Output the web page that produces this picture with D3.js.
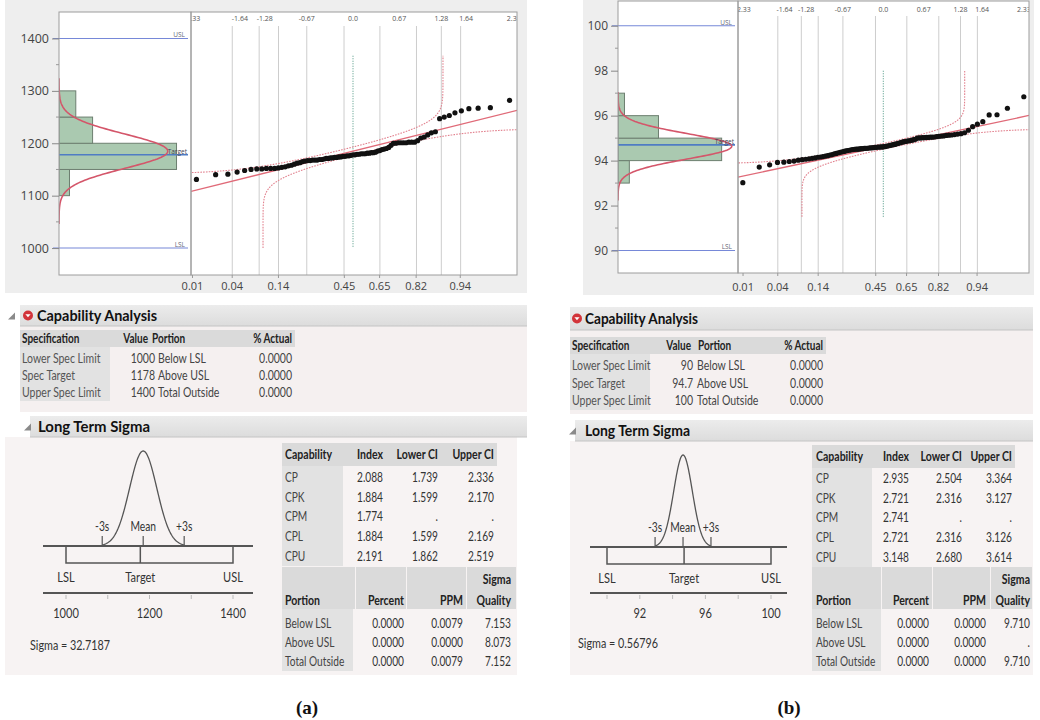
<!DOCTYPE html>
<html><head><meta charset="utf-8">
<script src="https://cdn.jsdelivr.net/npm/d3@7"></script>
<style>body{margin:0;background:#fff}svg{display:block}</style>
</head><body>
<script>
// ================= DATA =================
// (a) sorted observations read from the normal quantile plot (n = 85)
const valuesA = [1131,1140,1141,1145,1148, 1150,1151,1151,1152,1152,1152,1153,1154,1155,
  1157,1158,1160,1162,1163,1165,1166, 1167,1167,1168,1168,1168,1169,1169,1170,
  1171,1171,1172,1172,1173,1173,1174,1174, 1175,1175,1176,1176,1177,1178,1178,1179,
  1179,1180,1180,1180,1181,1181,1182,1182, 1183,1185,1186,1188,1189,1190,1192,1196,
  1200,1200,1201,1201,1201,1201,1202,1202, 1202,1205,1210,1212,1216,1220,1222,1247,
  1250,1253,1258,1262,1266,1267,1268,1282];
// (b) sorted observations (n = 100)
const valuesB = [93.02,93.71,93.81,93.92,93.93,93.96,93.98,
  94.02,94.04,94.06,94.08,94.10,94.12,94.15,
  94.16,94.18,94.20,94.22,94.25,94.27,94.30,
  94.32,94.35,94.37,94.39,94.41,94.43,94.45,94.46,94.48,
  94.49,94.50,94.51,94.51,94.52,94.53,94.53,94.54,94.55,94.55,
  94.56,94.57,94.57,94.58,94.59,94.59,94.60,94.60,94.61,94.61,94.62,
  94.63,94.65,94.66,94.68,94.69,94.71,94.72,94.74,94.76,94.78,94.80,
  94.82,94.84,94.85,94.87,94.88,94.89,94.91,94.93,94.95,
  95.00,95.01,95.01,95.02,95.02,95.03,95.03,95.04,95.04,95.05,
  95.07,95.08,95.09,95.10,95.12,95.13,95.14,
  95.16,95.18,95.20,95.24,95.35,95.51,95.62,95.73,
  96.03,96.04,96.33,96.84];
const binEdgesA = [1100,1150,1200,1250,1300];
const binEdgesB = [93,94,95,96,97];
const specValuesA = [1000, 1178, 1400];   // LSL, Target, USL
const specValuesB = [90, 94.7, 100];
const meanA = 1184.9, sigmaA = 32.7187;
const meanB = 94.636, sigmaB = 0.56796;
const bandRangeA = [1000, 1367];
const bandRangeB = [91.5, 98.0];
const yTicksA = [1000,1100,1200,1300,1400];
const yTicksB = [90,92,94,96,98,100];
const quantTopZ = [-2.33,-1.64,-1.28,-0.67,0,0.67,1.28,1.64,2.33];
const quantTopLabels = ["-2.33","-1.64","-1.28","-0.67","0.0","0.67","1.28","1.64","2.33"];
const probBottom = [0.01,0.04,0.14,0.45,0.65,0.82,0.94];
const gridZ = [-1.75,-1.36,-1.08,-0.67,-0.13,0.39,0.92,1.28,1.56];
const specNames = ["Lower Spec Limit","Spec Target","Upper Spec Limit"];
const specValueTextA = ["1000","1178","1400"];
const specValueTextB = ["90","94.7","100"];
const portionNames = ["Below LSL","Above USL","Total Outside"];
const actualA = ["0.0000","0.0000","0.0000"];
const actualB = ["0.0000","0.0000","0.0000"];
const capNames = ["CP","CPK","CPM","CPL","CPU"];
const capIndexA = ["2.088","1.884","1.774","1.884","2.191"];
const capLowerA = ["1.739","1.599",".","1.599","1.862"];
const capUpperA = ["2.336","2.170",".","2.169","2.519"];
const capIndexB = ["2.935","2.721","2.741","2.721","3.148"];
const capLowerB = ["2.504","2.316",".","2.316","2.680"];
const capUpperB = ["3.364","3.127",".","3.126","3.614"];
const percentA = ["0.0000","0.0000","0.0000"];
const ppmA = ["0.0079","0.0000","0.0079"];
const sigmaQualityA = ["7.153","8.073","7.152"];
const percentB = ["0.0000","0.0000","0.0000"];
const ppmB = ["0.0000","0.0000","0.0000"];
const sigmaQualityB = ["9.710",".","9.710"];
const diagTicksA = [1000,1100,1200,1300,1400];
const diagLabelsA = [1000,1200,1400];
const diagTicksB = [90,92,94,96,98,100];
const diagLabelsB = [92,96,100];

// ================= HELPERS =================
const SANS = "'Open Sans','DejaVu Sans',sans-serif";
const LATO = "Lato,'Open Sans',sans-serif";
const svg = d3.select("body").append("svg").attr("width",1040).attr("height",720);
svg.append("rect").attr("width",1040).attr("height",720).attr("fill","#fff");
const defs = svg.append("defs");

function T(g, x, y, s, o = {}) {
  const t = g.append("text").attr("x", x).attr("y", y).attr("dy", "0.35em")
    .attr("font-family", o.font || LATO).attr("font-size", o.size || 12)
    .attr("font-weight", o.bold ? "bold" : "normal")
    .attr("text-anchor", o.anchor || "start").attr("fill", o.fill || "#333").text(s);
  if (o.len) t.attr("textLength", o.len).attr("lengthAdjust", "spacingAndGlyphs");
  else if (o.k && o.k !== 1) {
    const w = t.node().getComputedTextLength();
    if (w > 0) t.attr("textLength", w * o.k).attr("lengthAdjust", "spacingAndGlyphs");
  }
  return t;
}
function R(g, x0, y0, x1, y1, fill, stroke) {
  return g.append("rect").attr("x", x0).attr("y", y0).attr("width", x1 - x0).attr("height", y1 - y0)
    .attr("fill", fill).attr("stroke", stroke || "none");
}
function probit(p) {
  const a=[-3.969683028665376e+01,2.209460984245205e+02,-2.759285104469687e+02,1.383577518672690e+02,-3.066479806614716e+01,2.506628277459239e+00];
  const b=[-5.447609879822406e+01,1.615858368580409e+02,-1.556989798598866e+02,6.680131188771972e+01,-1.328068155288572e+01];
  const c=[-7.784894002430293e-03,-3.223964580411365e-01,-2.400758277161838e+00,-2.549671010238208e+00,4.374664141464968e+00,2.938163982698783e+00];
  const d=[7.784695709041462e-03,3.224671290700398e-01,2.445134137142996e+00,3.754408661907416e+00];
  const pl = 0.02425, ph = 1 - pl; let q, r;
  if (p < pl) { q = Math.sqrt(-2*Math.log(p)); return (((((c[0]*q+c[1])*q+c[2])*q+c[3])*q+c[4])*q+c[5])/((((d[0]*q+d[1])*q+d[2])*q+d[3])*q+1); }
  if (p > ph) { q = Math.sqrt(-2*Math.log(1-p)); return -(((((c[0]*q+c[1])*q+c[2])*q+c[3])*q+c[4])*q+c[5])/((((d[0]*q+d[1])*q+d[2])*q+d[3])*q+1); }
  q = p - 0.5; r = q*q;
  return (((((a[0]*r+a[1])*r+a[2])*r+a[3])*r+a[4])*r+a[5])*q/(((((b[0]*r+b[1])*r+b[2])*r+b[3])*r+b[4])*r+1);
}
function ncdf(z) {
  const t = 1/(1 + 0.3275911*Math.abs(z)/Math.SQRT2);
  const y = 1 - (((((1.061405429*t - 1.453152027)*t) + 1.421413741)*t - 0.284496736)*t + 0.254829592)*t*Math.exp(-z*z/2);
  return z >= 0 ? 0.5*(1+y) : 0.5*(1-y);
}

// ================= TOP PLOTS =================
function drawTop(L, D) {
  const g = svg.append("g");
  R(g, L.bg[0], L.bg[1], L.bg[2], L.bg[3], "#eeeeee");
  const y = d3.scaleLinear().domain(L.yDom).range([L.bot, L.top]);
  const xh = d3.scaleLinear().domain([0, L.histMax]).range([L.hx0, L.hx1]);
  const xq = d3.scaleLinear().domain(L.zDom).range([L.hx1, L.qx1]);
  defs.append("clipPath").attr("id", "ch" + L.id).append("rect")
    .attr("x", L.hx0).attr("y", L.top).attr("width", L.hx1 - L.hx0).attr("height", L.bot - L.top);
  defs.append("clipPath").attr("id", "cq" + L.id).append("rect")
    .attr("x", L.hx1).attr("y", L.top).attr("width", L.qx1 - L.hx1).attr("height", L.bot - L.top);
  R(g, L.hx0, L.top, L.hx1, L.bot, "#fff");
  R(g, L.hx1, L.top, L.qx1, L.bot, "#fff");

  const [lsl, target, usl] = D.spec;
  const n = D.values.length;
  // ---- histogram ----
  const gh = g.append("g").attr("clip-path", `url(#ch${L.id})`);
  const edges = D.edges;
  const bins = d3.bin().domain([edges[0], edges[edges.length-1]]).thresholds(edges.slice(1, -1))(D.values);
  gh.selectAll("rect.bar").data(bins).join("rect").attr("class", "bar")
    .attr("x", xh(0)).attr("y", b => y(b.x1))
    .attr("width", b => xh(b.length) - xh(0)).attr("height", b => y(b.x0) - y(b.x1))
    .attr("fill", "#aac9b0").attr("stroke", "#6d7f70").attr("stroke-width", 1);
  // spec limit lines
  [[lsl, "LSL"], [usl, "USL"]].forEach(([v, lab]) => {
    g.append("line").attr("x1", L.hx0 - 6).attr("x2", L.hx1 - 3).attr("y1", y(v)).attr("y2", y(v))
      .attr("stroke", "#7688d8").attr("stroke-width", 1.1);
    T(g, L.hx1 - 6, y(v) - 3.5, lab, {font: SANS, size: 6.5, anchor: "end", fill: "#667"});
  });
  gh.append("line").attr("x1", L.hx0).attr("x2", L.hx1 - 3).attr("y1", y(target)).attr("y2", y(target))
    .attr("stroke", "#4f7cc4").attr("stroke-width", 1.6);
  // fitted normal curve
  const bw = edges[1] - edges[0];
  const ws = d3.range(-4.25, 4.2501, 0.05);
  const curve = ws.map(w => [n * bw * Math.exp(-w*w/2) / (D.sigma * Math.sqrt(2*Math.PI)), D.mean + D.sigma * w]);
  gh.append("path").attr("d", d3.line().x(d => xh(d[0])).y(d => y(d[1]))(curve))
    .attr("fill", "none").attr("stroke", "#d4566a").attr("stroke-width", 1.6);
  T(g, L.hx1 - 4, y(target) - 3, "Target", {font: SANS, size: 6.5, anchor: "end", fill: "#445"});

  // ---- normal quantile plot ----
  const gq = g.append("g").attr("clip-path", `url(#cq${L.id})`);
  gq.selectAll("line.grid").data(gridZ).join("line").attr("class", "grid")
    .attr("x1", d => xq(d)).attr("x2", d => xq(d)).attr("y1", L.gridTop).attr("y2", L.bot)
    .attr("stroke", "#cdcdcd").attr("stroke-width", 1);
  quantTopZ.forEach((z, i) => T(gq, xq(z), L.topLabY, quantTopLabels[i], {font: SANS, size: 7, anchor: "middle", fill: "#555"}));
  // z = 0 reference
  gq.append("line").attr("x1", xq(0)).attr("x2", xq(0)).attr("y1", y(D.band[1])).attr("y2", y(D.band[0]))
    .attr("stroke", "#5a9f8c").attr("stroke-width", 1.1).attr("stroke-dasharray", "1,1.5");
  // Lilliefors confidence bands
  const dcrit = 0.886 / Math.sqrt(n);
  const wsB = d3.range(-6, 6.0001, 0.004);
  const upper = [], lower = [];
  wsB.forEach(w => {
    const v = D.mean + D.sigma * w;
    const pu = ncdf(w) - dcrit;
    if (pu > 1e-9 && pu < 1 - 1e-9 && v <= D.band[1]) upper.push([probit(pu), v]);
    const pl = ncdf(w) + dcrit;
    if (pl > 1e-9 && pl < 1 - 1e-9 && v >= D.band[0]) lower.push([probit(pl), v]);
  });
  const zl = d3.line().x(d => xq(d[0])).y(d => y(d[1]));
  [upper, lower].forEach(arr => gq.append("path").attr("d", zl(arr.filter(d => d[0] > L.zDom[0] - 0.2 && d[0] < L.zDom[1] + 0.2)))
    .attr("fill", "none").attr("stroke", "#e2828f").attr("stroke-width", 1.1).attr("stroke-dasharray", "1.6,1.2"));
  // fitted line
  gq.append("line").attr("x1", xq(L.zDom[0])).attr("x2", xq(L.zDom[1]))
    .attr("y1", y(D.mean + D.sigma * L.zDom[0])).attr("y2", y(D.mean + D.sigma * L.zDom[1]))
    .attr("stroke", "#e06a78").attr("stroke-width", 1.3);
  // points
  const sorted = D.values.slice().sort(d3.ascending);
  gq.selectAll("circle").data(sorted).join("circle")
    .attr("cx", (d, i) => xq(probit((i + 1) / (n + 1)))).attr("cy", d => y(d))
    .attr("r", 2.6).attr("fill", "#111");

  // frames
  R(g, L.hx0, L.top, L.hx1, L.bot, "none", "#9c9c9c");
  R(g, L.hx1, L.top, L.qx1, L.bot, "none", "#9c9c9c");
  // y axis
  const ax = d3.axisLeft(y).tickValues(D.yTicks).tickSize(7).tickPadding(3).tickFormat(d3.format("d"));
  const ga = g.append("g").attr("transform", `translate(${L.hx0},0)`).call(ax);
  ga.select(".domain").remove();
  ga.selectAll("line").attr("stroke", "#888");
  ga.selectAll("text").attr("font-family", SANS).attr("font-size", L.ySize).attr("fill", "#444");
  const minor = D.yTicks.slice(0, -1).map((t, i) => (t + D.yTicks[i + 1]) / 2);
  g.selectAll("line.minor" + L.id).data(minor).join("line")
    .attr("x1", L.hx0 - 3).attr("x2", L.hx0).attr("y1", d => y(d)).attr("y2", d => y(d)).attr("stroke", "#999");
  // bottom probability labels
  probBottom.forEach(p => {
    const xx = xq(probit(p));
    g.append("line").attr("x1", xx).attr("x2", xx).attr("y1", L.bot).attr("y2", L.bot + 3).attr("stroke", "#999");
    T(g, xx, L.botLabY, String(p), {font: SANS, size: 11, anchor: "middle", fill: "#444"});
  });
}

drawTop(
  {id: "a", bg: [5, 0, 527, 293], hx0: 59, hx1: 191, qx1: 517, top: 12, bot: 275,
   yDom: [948.6, 1450.5], histMax: 62.9, zDom: [-2.348, 2.377], topLabY: 19, gridTop: 26, botLabY: 286, ySize: 12.5},
  {values: valuesA, edges: binEdgesA, spec: specValuesA, mean: meanA, sigma: sigmaA, band: bandRangeA, yTicks: yTicksA});
drawTop(
  {id: "b", bg: [583, 0, 1034, 295], hx0: 618, hx1: 738, qx1: 1029, top: 1, bot: 273,
   yDom: [89.0, 101.1], histMax: 74.1, zDom: [-2.41, 2.416], topLabY: 10, gridTop: 16, botLabY: 287, ySize: 12},
  {values: valuesB, edges: binEdgesB, spec: specValuesB, mean: meanB, sigma: sigmaB, band: bandRangeB, yTicks: yTicksB});

// ================= REPORT SECTIONS =================
const gr = svg.append("g");
function header(x0, x1, y0, y1, title, textX, textLen, triX, iconX) {
  const gid = "hg" + Math.round(x0) + "_" + Math.round(y0);
  const lg = defs.append("linearGradient").attr("id", gid).attr("x1", 0).attr("y1", 0).attr("x2", 0).attr("y2", 1);
  lg.append("stop").attr("offset", "0%").attr("stop-color", "#ececec");
  lg.append("stop").attr("offset", "100%").attr("stop-color", "#dcdcdc");
  R(gr, x0, y0, x1, y1, `url(#${gid})`);
  gr.append("line").attr("x1", x0).attr("x2", x1).attr("y1", y1).attr("y2", y1).attr("stroke", "#c4c4c4");
  const cy = (y0 + y1) / 2;
  if (triX != null) gr.append("path").attr("d", `M${triX - 3},${cy + 4} L${triX + 4},${cy + 4} L${triX + 4},${cy - 3} Z`).attr("fill", "#8a8a8a");
  if (iconX != null) {
    gr.append("circle").attr("cx", iconX).attr("cy", cy).attr("r", 5).attr("fill", "#d2343a");
    gr.append("path").attr("d", `M${iconX - 2.6},${cy - 1.2} L${iconX + 2.6},${cy - 1.2} L${iconX},${cy + 1.8} Z`).attr("fill", "#fff");
  }
  T(gr, textX, cy, title, {bold: true, size: 15, len: textLen, fill: "#111"});
}

function specTable(P, valText, actual) {
  R(gr, P.x0, P.by0, P.x1, P.by1, "#f5f0f0");
  R(gr, P.tx0, P.hy0, P.tx1, P.hy1, "#dadada");
  R(gr, P.tx0, P.hy1, P.colX, P.ry1, "#e2e2e2");
  const hy = (P.hy0 + P.hy1) / 2;
  const hb = {bold: true, size: 12.5, k: 0.8, fill: "#222"};
  T(gr, P.tx0 + 2, hy, "Specification", hb);
  T(gr, P.hValR, hy, "Value", {...hb, anchor: "end"});
  T(gr, P.hPorL, hy, "Portion", hb);
  T(gr, P.actR, hy, "% Actual", {...hb, anchor: "end"});
  const rb = {size: 12.5, k: 0.84, fill: "#444"};
  P.rows.forEach((ry, i) => {
    T(gr, P.tx0 + 2, ry, specNames[i], {...rb, fill: "#555"});
    T(gr, P.valR, ry, valText[i], {...rb, anchor: "end"});
    T(gr, P.porL, ry, portionNames[i], rb);
    T(gr, P.actR, ry, actual[i], {...rb, anchor: "end"});
  });
}

function diagram(P) {
  const [lsl, target, usl] = P.spec;
  const x = d3.scaleLinear().domain([lsl, usl]).range([P.lslX, P.uslX]);
  const ys = d3.scaleLinear().domain([0, 1]).range([P.baseY, P.baseY - P.peakH]);
  const pts = d3.range(-3, 3.0001, 0.05).map(w => [P.mean + P.sigma * w, Math.exp(-w * w / 2)]);
  gr.append("path").attr("d", d3.line().x(d => x(d[0])).y(d => ys(d[1]))(pts))
    .attr("fill", "none").attr("stroke", "#555").attr("stroke-width", 1.3);
  gr.append("line").attr("x1", P.lineX0).attr("x2", P.lineX1).attr("y1", P.baseY).attr("y2", P.baseY)
    .attr("stroke", "#555").attr("stroke-width", 2);
  [[P.mean - 3 * P.sigma, "-3s"], [P.mean, "Mean"], [P.mean + 3 * P.sigma, "+3s"]].forEach(([v, lab]) => {
    gr.append("line").attr("x1", x(v)).attr("x2", x(v)).attr("y1", P.baseY - 10).attr("y2", P.baseY)
      .attr("stroke", "#555").attr("stroke-width", 1.2);
    T(gr, x(v), P.baseY - 19, lab, {size: 12.5, anchor: "middle", fill: "#333", k: 0.82});
  });
  gr.append("path").attr("d", `M${x(lsl)},${P.baseY} V${P.bracketY} H${x(usl)} V${P.baseY}`)
    .attr("fill", "none").attr("stroke", "#555").attr("stroke-width", 1.5);
  gr.append("line").attr("x1", x(target)).attr("x2", x(target)).attr("y1", P.baseY).attr("y2", P.bracketY)
    .attr("stroke", "#555").attr("stroke-width", 1.5);
  [[lsl, "LSL"], [target, "Target"], [usl, "USL"]].forEach(([v, lab]) =>
    T(gr, x(v), P.bracketY + 14, lab, {size: 13, anchor: "middle", fill: "#333", k: 0.85}));
  gr.append("line").attr("x1", P.lineX0).attr("x2", P.lineX1).attr("y1", P.axisY).attr("y2", P.axisY)
    .attr("stroke", "#555").attr("stroke-width", 2);
  P.ticks.forEach(v => gr.append("line").attr("x1", x(v)).attr("x2", x(v)).attr("y1", P.axisY + 2).attr("y2", P.axisY + 6)
    .attr("stroke", "#bbb"));
  P.labels.forEach(v => T(gr, x(v), P.axisY + 20, String(v), {size: 13, anchor: "middle", fill: "#333", k: 0.85}));
  T(gr, P.sigX, P.sigY, "Sigma = " + P.sigmaText, {size: 13, fill: "#333", k: 0.83});
}

function capTables(P, idx, lo, up, pct, ppm, sq) {
  R(gr, P.tx0, P.hy0, P.tx1, P.hy1, "#dadada");
  R(gr, P.tx0, P.hy1, P.colX, P.ry1, "#e2e2e2");
  const hy = (P.hy0 + P.hy1) / 2;
  const hb = {bold: true, size: 13, k: 0.81, fill: "#222"};
  const rb = {size: 13, k: 0.78, fill: "#333"};
  T(gr, P.capL, hy, "Capability", hb);
  T(gr, P.idxR, hy, "Index", {...hb, anchor: "end"});
  T(gr, P.loR, hy, "Lower CI", {...hb, anchor: "end"});
  T(gr, P.upR, hy, "Upper CI", {...hb, anchor: "end"});
  P.rows.forEach((ry, i) => {
    T(gr, P.capL, ry, capNames[i], {...rb, fill: "#444"});
    T(gr, P.idxR, ry, idx[i], {...rb, anchor: "end"});
    T(gr, P.loR, ry, lo[i], {...rb, anchor: "end"});
    T(gr, P.upR, ry, up[i], {...rb, anchor: "end"});
  });
  P.cells.forEach(c => R(gr, c[0], P.py0, c[1], P.py1, "#dadada"));
  R(gr, P.tx0, P.py1, P.pcolX, P.pry1, "#e2e2e2");
  T(gr, P.sqR, P.py0 + 12, "Sigma", {...hb, anchor: "end"});
  const h2 = P.py1 - 9;
  T(gr, P.capL, h2, "Portion", hb);
  T(gr, P.pctR, h2, "Percent", {...hb, anchor: "end"});
  T(gr, P.ppmR, h2, "PPM", {...hb, anchor: "end"});
  T(gr, P.sqR, h2, "Quality", {...hb, anchor: "end"});
  P.prows.forEach((ry, i) => {
    T(gr, P.capL, ry, portionNames[i], {...rb, fill: "#444"});
    T(gr, P.pctR, ry, pct[i], {...rb, anchor: "end"});
    T(gr, P.ppmR, ry, ppm[i], {...rb, anchor: "end"});
    T(gr, P.sqR, ry, sq[i], {...rb, anchor: "end"});
  });
}

// ---- panel (a) ----
specTable({x0: 20, x1: 527, by0: 326, by1: 412, tx0: 20, tx1: 295, hy0: 330, hy1: 347, colX: 110, ry1: 401,
  valR: 155, porL: 158, hValR: 148, hPorL: 152, actR: 292, rows: [359, 376, 393]}, specValueTextA, actualA);
header(20, 527, 305, 326, "Capability Analysis", 37, 120, 11, 28);
R(gr, 5, 437, 517, 675, "#f7f3f3");
header(30, 527, 416, 437, "Long Term Sigma", 38, 112, 27, null);
diagram({spec: specValuesA, mean: meanA, sigma: sigmaA, lslX: 66, uslX: 233, baseY: 546, bracketY: 563, axisY: 593,
  peakH: 95, lineX0: 43, lineX1: 253, ticks: diagTicksA, labels: diagLabelsA, sigX: 30, sigY: 645, sigmaText: "32.7187"});
capTables({tx0: 282, tx1: 497, hy0: 443, hy1: 466, colX: 343, ry1: 566, capL: 285, idxR: 383, loR: 438, upR: 494,
  rows: [477, 497, 516, 536, 556], cells: [[282, 355], [356, 406], [407, 466], [467, 516]], py0: 567, py1: 609,
  pcolX: 353, pry1: 671, pctR: 404, ppmR: 463, sqR: 511, prows: [623, 642, 661]},
  capIndexA, capLowerA, capUpperA, percentA, ppmA, sigmaQualityA);

// ---- panel (b) ----
specTable({x0: 570, x1: 1033, by0: 330, by1: 414, tx0: 570, tx1: 826, hy0: 337, hy1: 354, colX: 650, ry1: 410,
  valR: 693, porL: 697, hValR: 691, hPorL: 698, actR: 823, rows: [366, 384, 401]}, specValueTextB, actualB);
header(570, 1033, 307, 330, "Capability Analysis", 585, 113, null, 577);
R(gr, 570, 441, 1033, 675, "#f7f3f3");
header(575, 1033, 420, 441, "Long Term Sigma", 585, 105, 572, null);
diagram({spec: specValuesB, mean: meanB, sigma: sigmaB, lslX: 607, uslX: 771, baseY: 547, bracketY: 564, axisY: 593,
  peakH: 92, lineX0: 590, lineX1: 787, ticks: diagTicksB, labels: diagLabelsB, sigX: 578, sigY: 643, sigmaText: "0.56796"});
capTables({tx0: 812, tx1: 1015, hy0: 445, hy1: 468, colX: 872, ry1: 567, capL: 816, idxR: 909, loR: 962, upR: 1012,
  rows: [478, 498, 517, 537, 557], cells: [[812, 881], [882, 932], [933, 990], [991, 1032]], py0: 567, py1: 609,
  pcolX: 881, pry1: 671, pctR: 929, ppmR: 986, sqR: 1030, prows: [623, 642, 661]},
  capIndexB, capLowerB, capUpperB, percentB, ppmB, sigmaQualityB);

// captions
T(svg, 307, 707, "(a)", {font: "'Liberation Serif','Times New Roman',serif", size: 19, bold: true, anchor: "middle", fill: "#111"});
T(svg, 789, 707, "(b)", {font: "'Liberation Serif','Times New Roman',serif", size: 19, bold: true, anchor: "middle", fill: "#111"});
</script>
</body></html>
